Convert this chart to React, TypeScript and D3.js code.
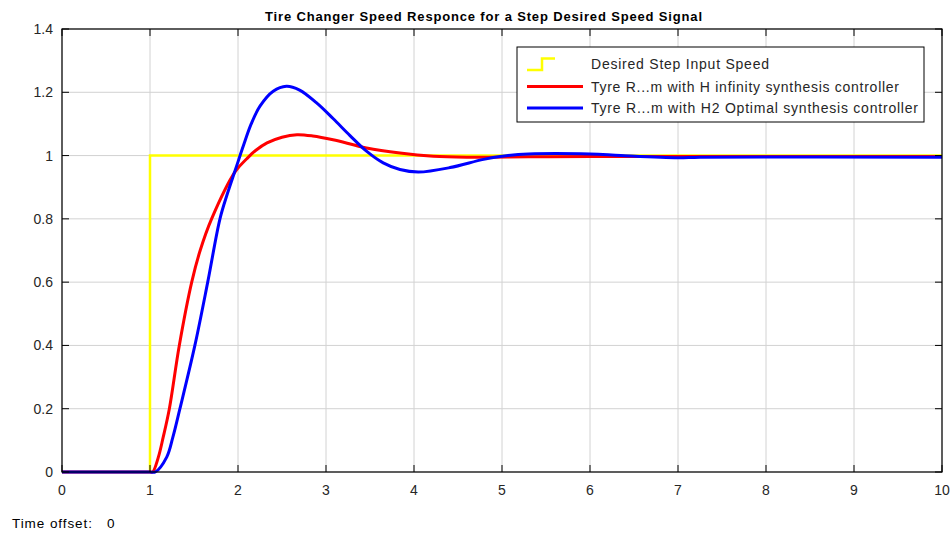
import React, { useEffect, useRef } from 'react';
import * as d3 from 'd3';

// step input (desired speed)
const stepT = [0, 1, 1, 10];
const stepV = [0, 0, 1, 1];

// response with H infinity controller
const hinfT = [0, 0.5, 1.0, 1.03, 1.095, 1.15, 1.22, 1.333, 1.474, 1.57, 1.7, 1.97, 2.1, 2.2, 2.33, 2.5, 2.67, 2.85, 3.08, 3.46, 3.84, 4.22, 4.6, 5.3, 6.0, 7.0, 10];
const hinfV = [0, 0, 0, 0, 0.047, 0.11, 0.2, 0.4, 0.6, 0.7, 0.8, 0.95, 0.99, 1.016, 1.04, 1.058, 1.066, 1.062, 1.05, 1.024, 1.008, 0.998, 0.995, 0.996, 0.997, 0.997, 0.997];

// response with H2 optimal controller
const h2T = [0, 0.5, 1.0, 1.06, 1.19, 1.26, 1.34, 1.51, 1.656, 1.795, 1.88, 1.97, 2.06, 2.15, 2.25, 2.4, 2.55, 2.7, 2.89, 3.08, 3.27, 3.46, 3.65, 3.84, 4.05, 4.41, 4.79, 5.0, 5.3, 6.0, 6.35, 7.0, 7.25, 10];
const h2V = [0, 0, 0, 0, 0.047, 0.11, 0.2, 0.4, 0.6, 0.8, 0.88, 0.955, 1.03, 1.1, 1.156, 1.203, 1.219, 1.207, 1.167, 1.117, 1.064, 1.014, 0.977, 0.956, 0.948, 0.962, 0.988, 0.998, 1.005, 1.005, 1.0, 0.993, 0.995, 0.995];

const xTicks = [0, 1, 2, 3, 4, 5, 6, 7, 8, 9, 10];
const yTicks = [0, 0.2, 0.4, 0.6, 0.8, 1, 1.2, 1.4];

const legendLabels = [
  'Desired Step Input Speed',
  'Tyre R...m with H infinity synthesis controller',
  'Tyre R...m with H2 Optimal synthesis controller'
];
const legendWidths = [178, 308, 327];

const App = () => {
  const svgRef = useRef<SVGSVGElement | null>(null);

  useEffect(() => {
    if (!svgRef.current) return;
    const svg = d3.select(svgRef.current);
    svg.selectAll('*').remove();

    const W = 950, H = 533;
    const m = { left: 62, right: 8, top: 29, bottom: 61 };
    const font = '"Liberation Sans", Arial, sans-serif';
    const txt = '#262626';

    svg.attr('width', W).attr('height', H);
    svg.append('rect').attr('width', W).attr('height', H).attr('fill', '#fff');

    const x = d3.scaleLinear().domain([0, 10]).range([m.left, W - m.right]);
    const y = d3.scaleLinear().domain([0, 1.4]).range([H - m.bottom, m.top]);

    // grid
    const grid = svg.append('g');
    xTicks.forEach(t => {
      grid.append('line')
        .attr('x1', x(t)).attr('x2', x(t))
        .attr('y1', y(0)).attr('y2', y(1.4))
        .attr('stroke', '#d2d2d2').attr('stroke-width', 1);
    });
    yTicks.forEach(t => {
      grid.append('line')
        .attr('x1', x(0)).attr('x2', x(10))
        .attr('y1', y(t)).attr('y2', y(t))
        .attr('stroke', '#d2d2d2').attr('stroke-width', 1);
    });

    // lines
    const mk = (ts: number[], vs: number[]) => ts.map((t, i) => [t, vs[i]] as [number, number]);
    const line = d3.line<[number, number]>().x(d => x(d[0])).y(d => y(d[1]));
    const smooth = d3.line<[number, number]>().x(d => x(d[0])).y(d => y(d[1])).curve(d3.curveCatmullRom.alpha(0.5));

    svg.append('path').attr('d', line(mk(stepT, stepV)))
      .attr('fill', 'none').attr('stroke', '#ffff00').attr('stroke-width', 2.5);
    svg.append('path').attr('d', smooth(mk(hinfT, hinfV)))
      .attr('fill', 'none').attr('stroke', '#ff0000').attr('stroke-width', 3);
    svg.append('path').attr('d', smooth(mk(h2T, h2V)))
      .attr('fill', 'none').attr('stroke', '#0000ff').attr('stroke-width', 3);

    // axes box
    svg.append('rect')
      .attr('x', x(0)).attr('y', y(1.4))
      .attr('width', x(10) - x(0)).attr('height', y(0) - y(1.4))
      .attr('fill', 'none').attr('stroke', '#000').attr('stroke-width', 1.2);

    const tl = 7;
    xTicks.forEach(t => {
      svg.append('line').attr('x1', x(t)).attr('x2', x(t)).attr('y1', y(0)).attr('y2', y(0) - tl).attr('stroke', '#000');
      svg.append('line').attr('x1', x(t)).attr('x2', x(t)).attr('y1', y(1.4)).attr('y2', y(1.4) + tl).attr('stroke', '#000');
      svg.append('text').attr('x', x(t)).attr('y', y(0) + 23)
        .attr('text-anchor', 'middle').attr('font-family', font).attr('font-size', 14).attr('fill', txt)
        .text(d3.format('')(t));
    });
    yTicks.forEach(t => {
      svg.append('line').attr('x1', x(0)).attr('x2', x(0) + tl).attr('y1', y(t)).attr('y2', y(t)).attr('stroke', '#000');
      svg.append('line').attr('x1', x(10)).attr('x2', x(10) - tl).attr('y1', y(t)).attr('y2', y(t)).attr('stroke', '#000');
      svg.append('text').attr('x', x(0) - 9).attr('y', y(t) + 5)
        .attr('text-anchor', 'end').attr('font-family', font).attr('font-size', 14).attr('fill', txt)
        .text(d3.format('')(t));
    });

    // title
    svg.append('text').attr('x', 265).attr('y', 21)
      .attr('font-family', font).attr('font-size', 13)
      .attr('font-weight', 'bold').attr('fill', '#000')
      .attr('textLength', 437).attr('lengthAdjust', 'spacing')
      .text('Tire Changer Speed Responce for a Step Desired Speed Signal');

    // legend
    const lg = svg.append('g').attr('transform', 'translate(517,47)');
    lg.append('rect').attr('width', 407).attr('height', 75)
      .attr('fill', '#fff').attr('stroke', '#000').attr('stroke-width', 1);
    const rowY = [17, 39.5, 61];
    lg.append('path')
      .attr('d', `M10,${rowY[0] + 6}H25V${rowY[0] - 5.5}H38`)
      .attr('fill', 'none').attr('stroke', '#ffff00').attr('stroke-width', 2.5);
    lg.append('line').attr('x1', 10).attr('x2', 66).attr('y1', rowY[1]).attr('y2', rowY[1])
      .attr('stroke', '#ff0000').attr('stroke-width', 3);
    lg.append('line').attr('x1', 10).attr('x2', 66).attr('y1', rowY[2]).attr('y2', rowY[2])
      .attr('stroke', '#0000ff').attr('stroke-width', 3);
    legendLabels.forEach((s, i) => {
      lg.append('text').attr('x', 74).attr('y', rowY[i] + 5)
        .attr('font-family', font).attr('font-size', 14).attr('fill', txt)
        .attr('textLength', legendWidths[i]).attr('lengthAdjust', 'spacing')
        .text(s);
    });

    // footer
    svg.append('text').attr('x', 12).attr('y', 528)
      .attr('font-family', font).attr('font-size', 13.5).attr('fill', '#000')
      .attr('textLength', 80).attr('lengthAdjust', 'spacing')
      .text('Time offset:');
    svg.append('text').attr('x', 107).attr('y', 528)
      .attr('font-family', font).attr('font-size', 13.5).attr('fill', '#000')
      .text('0');
  }, []);

  return (
    <svg ref={svgRef} style={{ position: 'absolute', left: 0, top: 0, display: 'block' }} />
  );
};

export default App;
